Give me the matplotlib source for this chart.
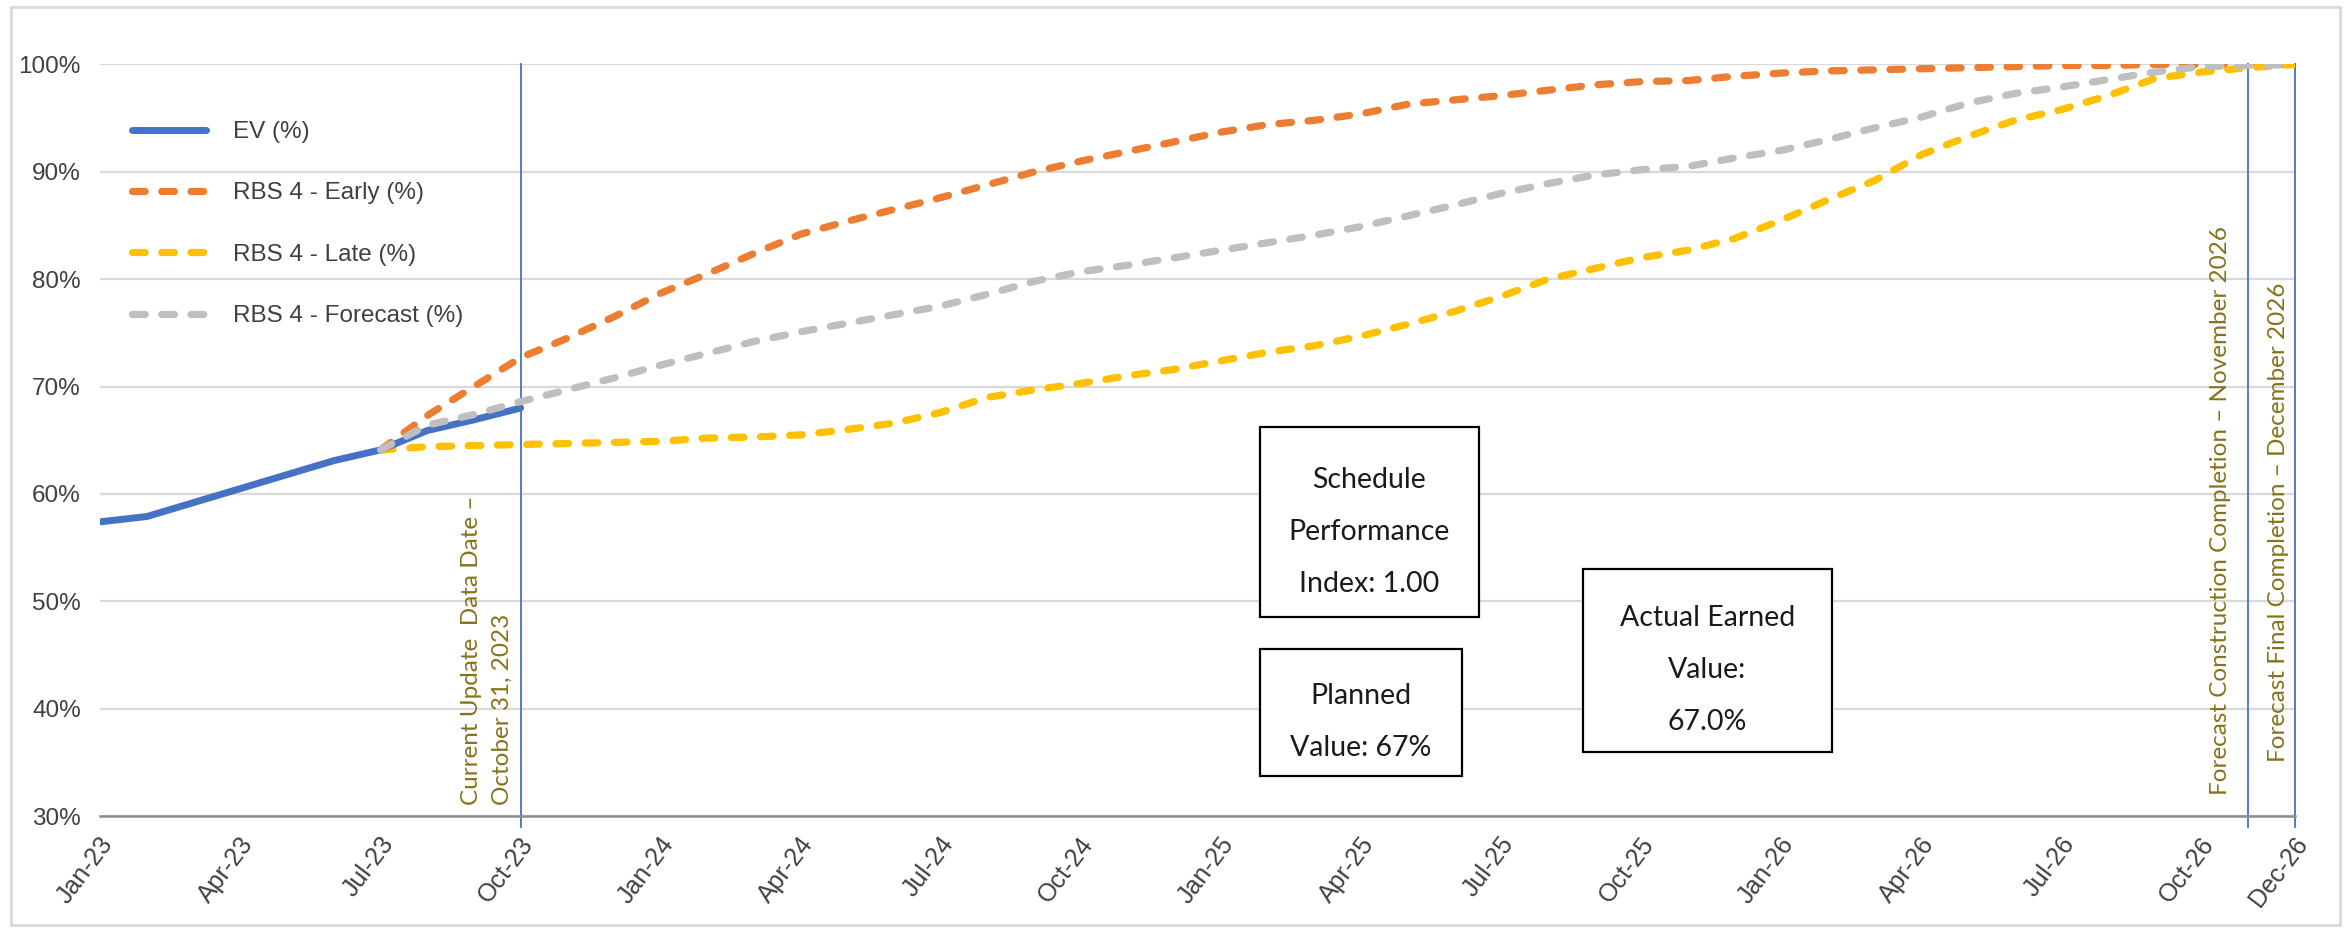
import numpy as np
import pandas as pd
import matplotlib
matplotlib.use('Agg')
import matplotlib.pyplot as plt
from matplotlib.patches import Rectangle
from matplotlib.transforms import ScaledTranslation

# monthly axis Jan-23 .. Dec-26
months = pd.date_range('2023-01-01', '2026-12-01', freq='MS').strftime('%b-%y').tolist()
tick_labels = ['Jan-23', 'Apr-23', 'Jul-23', 'Oct-23', 'Jan-24', 'Apr-24', 'Jul-24', 'Oct-24',
               'Jan-25', 'Apr-25', 'Jul-25', 'Oct-25', 'Jan-26', 'Apr-26', 'Jul-26', 'Oct-26', 'Dec-26']

# EV actuals Jan-23 .. Oct-23
ev = [57.4, 57.9, 59.2, 60.5, 61.8, 63.1, 64.1, 65.9, 66.9, 68.0]
ev_start = 'Jan-23'

# RBS 4 curves Jul-23 .. Dec-26
rbs_start = 'Jul-23'
early = [64.1, 67.3, 70.0, 72.7, 74.5, 76.5,
         78.7, 80.5, 82.4, 84.2, 85.4, 86.5, 87.6, 88.8, 90.0, 91.0, 91.9, 92.8,
         93.7, 94.4, 94.8, 95.4, 96.3, 96.7, 97.1, 97.6, 98.1, 98.4, 98.5, 98.9,
         99.2, 99.4, 99.5, 99.6, 99.7, 99.8, 99.9, 99.9, 100, 100, 100, 100]
late = [64.1, 64.4, 64.5, 64.6, 64.7, 64.8,
        64.9, 65.2, 65.3, 65.5, 66.0, 66.6, 67.6, 69.0, 69.7, 70.3, 71.0, 71.6,
        72.4, 73.2, 73.8, 74.7, 75.8, 77.0, 78.4, 80.0, 81.0, 82.0, 82.7, 83.8,
        85.5, 87.4, 89.2, 91.6, 93.3, 94.8, 95.8, 97.1, 98.7, 99.3, 99.7, 100]
forecast = [64.1, 66.4, 67.4, 68.6, 69.7, 70.8,
            72.0, 73.1, 74.2, 75.1, 75.9, 76.7, 77.5, 78.6, 79.8, 80.7, 81.3, 82.0,
            82.7, 83.4, 84.1, 84.9, 85.9, 86.9, 88.0, 88.9, 89.7, 90.2, 90.5, 91.3,
            92.0, 93.0, 94.1, 95.1, 96.4, 97.3, 97.9, 98.6, 99.3, 99.8, 99.9, 100]

milestones = ['Oct-23', 'Nov-26', 'Dec-26']

fig = plt.figure(figsize=(23.51, 9.33), dpi=100)
ax = fig.add_axes([0.0427, 0.1254, 0.9335, 0.8055])

c_blue = '#4472C4'
c_orange = '#ED7D31'
c_yellow = '#FFC000'
c_gray = '#BFBFBF'
c_note = '#86721C'

def xs(start, vals):
    i0 = months.index(start)
    return np.arange(i0, i0 + len(vals))

dash = dict(linewidth=5.2, linestyle=(0, (1.75, 2.3)), dash_capstyle='round')
ax.plot(xs(rbs_start, early), early, color=c_orange, label='RBS 4 - Early (%)', zorder=3, **dash)
ax.plot(xs(rbs_start, late), late, color=c_yellow, label='RBS 4 - Late (%)', zorder=3, **dash)
ax.plot(xs(ev_start, ev), ev, color=c_blue, linewidth=5, solid_capstyle='round',
        label='EV (%)', zorder=4)
ax.plot(xs(rbs_start, forecast), forecast, color=c_gray, label='RBS 4 - Forecast (%)', zorder=5, **dash)

for m in milestones:
    ax.plot([months.index(m)] * 2, [29.0, 100], color=c_blue, linewidth=1.3,
            clip_on=False, zorder=2)

ax.set_xlim(0, len(months) - 1)
ax.set_ylim(30, 100)
ax.set_yticks(np.arange(30, 101, 10))
ax.set_yticklabels([f'{v}%' for v in range(30, 101, 10)])
ax.set_xticks([months.index(t) for t in tick_labels])
ax.set_xticklabels(tick_labels, rotation=53, ha='right', va='center', rotation_mode='anchor')
ax.tick_params(axis='both', length=0, labelsize=17.5, labelcolor='#404040')
ax.tick_params(axis='y', pad=14)
ax.tick_params(axis='x', labelsize=18, pad=17)
shift = ScaledTranslation(8 / 100, 0, fig.dpi_scale_trans)
for lab in ax.get_xticklabels():
    lab.set_transform(lab.get_transform() + shift)
for lab in ax.get_xticklabels() + ax.get_yticklabels():
    lab.set_family('Liberation Sans')

ax.grid(axis='y', color='#D9D9D9', linewidth=1.6)
ax.set_axisbelow(True)
for s in ['top', 'right', 'left']:
    ax.spines[s].set_visible(False)
ax.spines['bottom'].set_color('#8C8C8C')
ax.spines['bottom'].set_linewidth(1.8)

h, l = ax.get_legend_handles_labels()
order = [2, 0, 1, 3]
leg = ax.legend([h[i] for i in order], [l[i] for i in order], loc='upper left',
                bbox_to_anchor=(132 / 2351, 1 - 121 / 933), bbox_transform=fig.transFigure,
                frameon=False, borderpad=0, borderaxespad=0, handlelength=3.05,
                handletextpad=1.1, labelspacing=1.62,
                prop={'family': 'Liberation Sans', 'size': 17.5})
for t in leg.get_texts():
    t.set_color('#404040')

# milestone notes
ax.text(9 - 0.72, 31.0, 'Current Update  Data Date \u2013\nOctober 31, 2023', rotation=90,
        ha='center', va='bottom', ma='left', color=c_note, family='Lato', fontsize=17.5,
        linespacing=1.6)
ax.text(46 - 0.6, 31.95, 'Forecast Construction Completion \u2013 November 2026', rotation=90,
        ha='center', va='bottom', color=c_note, family='Lato', fontsize=17.5)
ax.text(47 - 0.35, 35.0, 'Forecast Final Completion \u2013 December 2026', rotation=90,
        ha='center', va='bottom', color=c_note, family='Lato', fontsize=17.5)

# info boxes (x in months, y in %)
boxes = [
    ((24.83, 48.5), 4.69, 17.7, 'Schedule\nPerformance\nIndex: 1.00'),
    ((24.83, 33.7), 4.33, 11.9, 'Planned\nValue: 67%'),
    ((31.75, 36.0), 5.33, 17.0, 'Actual Earned\nValue:\n67.0%'),
]
for (x0, y0), w, hgt, txt in boxes:
    ax.add_patch(Rectangle((x0, y0), w, hgt, facecolor='white', edgecolor='black',
                           linewidth=1.6, zorder=6))
    ax.text(x0 + w / 2, y0 + hgt / 2 - 0.9, txt, ha='center', va='center', family='Lato',
            fontsize=20.5, linespacing=2.22, color='#1a1a1a', zorder=7)

fig.patches.append(Rectangle((11 / 2351, 8 / 933), 2329 / 2351, 918 / 933,
                             transform=fig.transFigure, fill=False,
                             edgecolor='#D9D9D9', linewidth=2))

fig.savefig('out.png', dpi=100)
